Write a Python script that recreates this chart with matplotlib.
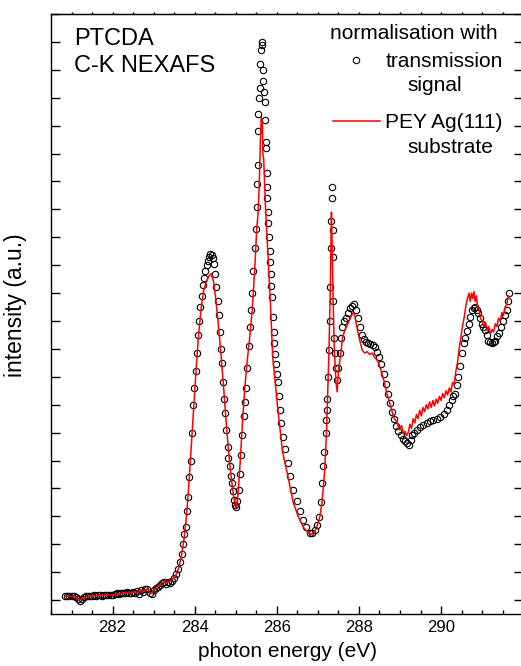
import matplotlib
matplotlib.use("Agg")
from matplotlib import pyplot as plt
from matplotlib.ticker import MultipleLocator, NullFormatter

plt.rcParams["font.family"] = ["Liberation Sans", "DejaVu Sans"]

# transmission signal (open circles)
trans_energy = [
    280.85, 280.90, 280.95, 281.00, 281.05, 281.10, 281.15, 281.20, 281.25, 281.30,
    281.35, 281.40, 281.45, 281.50, 281.55, 281.60, 281.65, 281.70, 281.75, 281.80,
    281.85, 281.90, 281.95, 282.00, 282.05, 282.10, 282.15, 282.20, 282.25, 282.30,
    282.35, 282.40, 282.45, 282.50, 282.55, 282.60, 282.65, 282.70, 282.75, 282.80,
    282.85, 282.90, 282.95, 283.00, 283.05, 283.10, 283.15, 283.20, 283.25, 283.30,
    283.35, 283.40, 283.45, 283.50, 283.55, 283.60, 283.64, 283.68, 283.72, 283.75,
    283.78, 283.81, 283.84, 283.87, 283.90, 283.93, 283.96, 283.99, 284.02, 284.05,
    284.08, 284.11, 284.14, 284.17, 284.20, 284.23, 284.26, 284.29, 284.32, 284.35,
    284.38, 284.41, 284.44, 284.47, 284.50, 284.53, 284.56, 284.58, 284.61, 284.64,
    284.66, 284.69, 284.72, 284.74, 284.77, 284.80, 284.82, 284.85, 284.88, 284.90,
    284.93, 284.96, 284.99, 285.01, 285.04, 285.07, 285.10, 285.13, 285.16, 285.19,
    285.22, 285.25, 285.28, 285.31, 285.34, 285.37, 285.40, 285.43, 285.46, 285.49,
    285.51, 285.52, 285.53, 285.54, 285.55, 285.57, 285.58, 285.59, 285.61, 285.63,
    285.64, 285.66, 285.67, 285.69, 285.70, 285.71, 285.73, 285.74, 285.75, 285.76,
    285.77, 285.78, 285.79, 285.81, 285.83, 285.84, 285.86, 285.87, 285.89, 285.90,
    285.92, 285.94, 285.96, 285.98, 286.00, 286.02, 286.05, 286.07, 286.10, 286.15,
    286.20, 286.26, 286.32, 286.40, 286.48, 286.56, 286.64, 286.72, 286.80, 286.86,
    286.93, 286.98, 287.03, 287.07, 287.11, 287.13, 287.16, 287.19, 287.20, 287.22,
    287.23, 287.25, 287.27, 287.29, 287.30, 287.32, 287.33, 287.34, 287.35, 287.36,
    287.37, 287.38, 287.40, 287.42, 287.44, 287.47, 287.50, 287.53, 287.56, 287.59,
    287.63, 287.68, 287.73, 287.78, 287.83, 287.88, 287.93, 287.98, 288.03, 288.08,
    288.13, 288.18, 288.23, 288.28, 288.33, 288.39, 288.44, 288.49, 288.54, 288.60,
    288.65, 288.70, 288.75, 288.80, 288.85, 288.90, 288.96, 289.02, 289.08, 289.13,
    289.18, 289.22, 289.26, 289.30, 289.35, 289.42, 289.49, 289.56, 289.65, 289.73,
    289.81, 289.90, 289.98, 290.06, 290.14, 290.20, 290.26, 290.30, 290.34, 290.38,
    290.42, 290.46, 290.50, 290.55, 290.59, 290.63, 290.67, 290.71, 290.75, 290.79,
    290.83, 290.87, 290.91, 290.95, 290.99, 291.03, 291.07, 291.11, 291.15, 291.19,
    291.24, 291.28, 291.32, 291.36, 291.40, 291.46, 291.52, 291.56, 291.60, 291.63,
    291.66,
]
trans_intensity = [
    0.15, 0.16, 0.14, 0.13, 0.14, 0.10, 0.03, -0.02, 0.03, 0.10,
    0.14, 0.15, 0.13, 0.16, 0.17, 0.15, 0.17, 0.18, 0.16, 0.17,
    0.19, 0.18, 0.17, 0.19, 0.22, 0.24, 0.23, 0.25, 0.27, 0.26,
    0.28, 0.27, 0.25, 0.29, 0.24, 0.31, 0.22, 0.35, 0.28, 0.40,
    0.38, 0.25, 0.20, 0.35, 0.42, 0.48, 0.55, 0.60, 0.64, 0.58,
    0.66, 0.62, 0.70, 0.78, 0.92, 1.12, 1.35, 1.65, 2.00, 2.35,
    2.60, 3.20, 3.70, 4.40, 5.00, 6.00, 7.00, 7.60, 8.20, 8.85,
    9.50, 10.00, 10.50, 10.90, 11.30, 11.55, 11.80, 12.00, 12.15, 12.30,
    12.40, 12.35, 12.25, 12.05, 11.70, 11.20, 10.70, 10.20, 9.60, 9.00,
    8.50, 7.80, 7.20, 6.70, 6.10, 5.50, 5.10, 4.80, 4.45, 4.20,
    3.90, 3.60, 3.40, 3.33, 3.55, 3.95, 4.50, 5.20, 5.90, 6.60,
    7.10, 7.60, 8.30, 9.10, 9.80, 10.40, 11.00, 11.80, 12.60, 13.30,
    14.10, 14.90, 15.60, 16.80, 17.40, 18.00, 18.35, 19.20, 19.70, 20.00,
    19.90, 19.00, 18.60, 18.20, 17.85, 17.20, 16.40, 16.20, 15.30, 14.80,
    14.40, 13.90, 13.50, 13.00, 12.50, 12.10, 11.70, 11.25, 10.85, 10.15,
    9.60, 9.20, 8.80, 8.45, 8.10, 7.80, 7.30, 6.80, 6.35, 5.85,
    5.40, 4.90, 4.45, 3.95, 3.55, 3.20, 2.87, 2.60, 2.42, 2.40,
    2.50, 2.70, 2.97, 3.50, 4.20, 4.80, 5.30, 6.00, 6.45, 6.80,
    7.20, 8.00, 8.96, 10.00, 11.20, 12.60, 13.60, 14.40, 14.80, 13.26,
    12.30, 10.70, 9.40, 8.85, 8.30, 7.90, 8.30, 8.85, 9.40, 9.80,
    10.00, 10.10, 10.30, 10.45, 10.55, 10.60, 10.40, 10.10, 9.80, 9.50,
    9.35, 9.25, 9.20, 9.18, 9.15, 9.05, 8.90, 8.70, 8.45, 8.10,
    7.75, 7.40, 7.05, 6.75, 6.50, 6.25, 6.05, 5.90, 5.78, 5.70,
    5.62, 5.55, 5.75, 5.90, 6.00, 6.10, 6.20, 6.28, 6.34, 6.40,
    6.45, 6.50, 6.56, 6.68, 6.80, 6.98, 7.17, 7.30, 7.40, 7.70,
    8.00, 8.40, 8.85, 9.20, 9.40, 9.65, 9.90, 10.15, 10.40, 10.45,
    10.50, 10.40, 10.30, 10.10, 9.90, 9.80, 9.68, 9.50, 9.30, 9.25,
    9.20, 9.25, 9.30, 9.45, 9.57, 9.80, 10.00, 10.20, 10.40, 10.70,
    11.00,
]

# PEY of the Ag(111) substrate (red line)
pey_energy = [
    280.85, 280.95, 281.05, 281.12, 281.20, 281.28, 281.40, 281.55, 281.70, 281.85,
    282.00, 282.15, 282.30, 282.45, 282.55, 282.62, 282.70, 282.78, 282.85, 282.92,
    282.98, 283.05, 283.12, 283.20, 283.28, 283.35, 283.42, 283.50, 283.56, 283.62,
    283.68, 283.74, 283.80, 283.86, 283.92, 283.98, 284.04, 284.10, 284.16, 284.22,
    284.28, 284.34, 284.40, 284.46, 284.52, 284.58, 284.64, 284.70, 284.76, 284.82,
    284.88, 284.94, 285.00, 285.02, 285.06, 285.11, 285.16, 285.22, 285.28, 285.34,
    285.40, 285.46, 285.51, 285.54, 285.57, 285.60, 285.62, 285.65, 285.66, 285.68,
    285.72, 285.78, 285.84, 285.90, 285.96, 286.02, 286.14, 286.26, 286.40, 286.52,
    286.65, 286.76, 286.84, 286.92, 286.98, 287.05, 287.10, 287.16, 287.21, 287.27,
    287.30, 287.33, 287.35, 287.37, 287.40, 287.44, 287.47, 287.50, 287.56, 287.60,
    287.64, 287.70, 287.76, 287.82, 287.86, 287.90, 287.96, 288.02, 288.08, 288.14,
    288.20, 288.26, 288.32, 288.38, 288.44, 288.50, 288.56, 288.62, 288.68, 288.74,
    288.80, 288.86, 288.92, 288.98, 289.04, 289.08, 289.12, 289.16, 289.20, 289.24,
    289.28, 289.32, 289.36, 289.40, 289.44, 289.48, 289.52, 289.56, 289.60, 289.64,
    289.68, 289.72, 289.76, 289.80, 289.84, 289.88, 289.92, 289.96, 290.00, 290.04,
    290.08, 290.12, 290.16, 290.20, 290.24, 290.28, 290.32, 290.36, 290.40, 290.44,
    290.48, 290.52, 290.56, 290.60, 290.64, 290.68, 290.71, 290.74, 290.77, 290.80,
    290.83, 290.86, 290.89, 290.92, 290.96, 291.00, 291.04, 291.08, 291.12, 291.16,
    291.20, 291.24, 291.28, 291.32, 291.36, 291.40, 291.44, 291.48, 291.52, 291.56,
    291.60, 291.64,
]
pey_intensity = [
    0.15, 0.13, 0.12, 0.08, 0.00, 0.08, 0.14, 0.16, 0.16, 0.18,
    0.18, 0.23, 0.26, 0.27, 0.30, 0.26, 0.36, 0.32, 0.42, 0.22,
    0.30, 0.45, 0.52, 0.62, 0.66, 0.62, 0.70, 0.80, 0.95, 1.20,
    1.60, 2.20, 3.00, 4.20, 5.60, 7.00, 8.40, 9.60, 10.50, 11.10,
    11.40, 11.60, 11.70, 11.40, 10.70, 9.80, 8.80, 7.70, 6.50, 5.40,
    4.50, 3.80, 3.30, 3.35, 3.90, 5.00, 6.30, 7.60, 8.60, 9.40,
    10.40, 11.80, 13.30, 13.80, 14.80, 16.50, 17.30, 17.00, 16.00, 15.80,
    14.20, 12.50, 10.75, 8.70, 7.80, 6.90, 5.30, 4.50, 3.50, 3.00,
    2.60, 2.42, 2.35, 2.45, 2.65, 3.00, 3.50, 4.55, 6.00, 8.96,
    11.00, 13.90, 12.50, 10.75, 9.00, 7.80, 7.46, 8.20, 8.85, 9.40,
    9.60, 9.80, 10.00, 10.20, 10.30, 10.20, 9.70, 9.30, 8.95, 8.85,
    8.90, 8.80, 8.85, 8.70, 8.60, 8.40, 8.10, 7.80, 7.40, 7.10,
    6.80, 6.50, 6.40, 6.10, 6.25, 5.95, 6.05, 5.90, 6.00, 6.30,
    6.15, 6.50, 6.35, 6.65, 6.50, 6.80, 6.60, 6.90, 6.75, 7.00,
    6.85, 7.10, 6.90, 7.15, 6.95, 7.20, 7.05, 7.30, 7.15, 7.40,
    7.25, 7.50, 7.35, 7.60, 7.45, 7.80, 7.70, 8.20, 8.50, 9.00,
    9.40, 9.80, 10.10, 10.50, 10.80, 11.00, 10.70, 11.00, 10.80, 11.05,
    10.70, 10.90, 10.50, 10.40, 10.10, 10.00, 9.80, 9.95, 9.65, 9.80,
    9.55, 9.70, 9.60, 9.90, 9.80, 10.10, 10.00, 10.30, 10.20, 10.50,
    10.60, 10.90,
]

x_ticks = [282, 284, 286, 288, 290]

W, H = 521, 666
fig = plt.figure(figsize=(W / 100, H / 100), dpi=100)
ax = fig.add_axes([51 / W, (H - 614) / H, 472.2 / W, 600 / H])

ax.plot(trans_energy, trans_intensity, linestyle="none", marker="o", markersize=4.6,
        markerfacecolor="none", markeredgecolor="black", markeredgewidth=0.8,
        label="transmission", zorder=2)
ax.plot(pey_energy, pey_intensity, color="#ff0000", linewidth=1.1,
        label="PEY Ag(111)", zorder=3)

ax.set_xlim(280.5, 292.0)
ax.set_ylim(-0.5, 21)
ax.set_xticks(x_ticks)
ax.set_xticklabels([str(t) for t in x_ticks])
ax.xaxis.set_minor_locator(MultipleLocator(0.5))
ax.yaxis.set_major_locator(MultipleLocator(1))
ax.yaxis.set_major_formatter(NullFormatter())
ax.tick_params(axis="x", which="major", direction="in", length=6, width=1,
               labelsize=12, pad=4)
ax.tick_params(axis="x", which="minor", direction="in", length=3, width=1)
ax.tick_params(axis="y", which="major", direction="in", length=6.5, width=1,
               left=True, right=True)
for s in ax.spines.values():
    s.set_linewidth(1.0)

top = ax.secondary_xaxis("top")
top.set_xticks([t / 2 for t in range(562, 584)])
top.tick_params(direction="out", length=1.5, width=1, labeltop=False)
top.set_xticklabels([])

ax.set_xlabel("photon energy (eV)", fontsize=15)
ax.xaxis.set_label_coords(0.5, -0.047)
ax.set_ylabel("intensity (a.u.)", fontsize=16.5)
ax.yaxis.set_label_coords(-0.05, 0.515)

ax.text(0.049, 0.977, "PTCDA\nC-K NEXAFS", transform=ax.transAxes, fontsize=17,
        ha="left", va="top", linespacing=1.3)

ax.text(0.945, 0.958, "normalisation with", transform=ax.transAxes, fontsize=15,
        ha="right", va="baseline")
leg = ax.legend(loc="upper left", bbox_to_anchor=(0.597, 0.937), frameon=False,
                fontsize=15, numpoints=1, handlelength=2.26, handletextpad=0.25,
                borderpad=0, borderaxespad=0, labelspacing=2.03)
sub = ["signal", "substrate"]
for t, s in zip(leg.get_texts(), sub):
    ax.annotate(s, xy=(0, 0), xycoords=t, xytext=(16, -4), textcoords="offset points",
                fontsize=15, ha="left", va="top", zorder=10)

fig.savefig("out.png", dpi=100)
